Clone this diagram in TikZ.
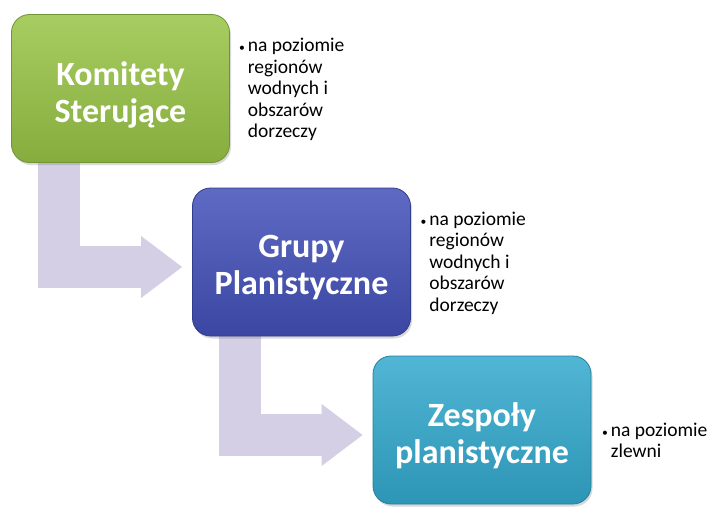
\documentclass[tikz,border=0pt]{standalone}
\usepackage{fontspec}
\setmainfont{Carlito}
\usetikzlibrary{positioning,calc,arrows.meta,shadows,backgrounds}

\definecolor{pfeillila}{HTML}{D4CFE4}
\definecolor{komgruen}{HTML}{98C446}
\definecolor{grupblau}{HTML}{4250B8}
\definecolor{zesptuerkis}{HTML}{33A9CE}

% Titelzeile etwas tiefer setzen
\newcommand\titel[1]{\raisebox{-6pt}[\height][\depth]{#1}}

\tikzset{
  stufe/.style={rounded corners=18pt, minimum width=218pt, minimum height=148pt,
    align=center, text=white, font=\fontsize{34}{37}\selectfont\bfseries,
    draw=#1!75!black, line width=0.8pt,
    top color=#1!85!white, bottom color=#1!88!black,
    drop shadow={opacity=0.3,shadow xshift=1.5pt,shadow yshift=-2.5pt}},
  notiz/.style={inner sep=0pt, align=left, font=\fontsize{19.5}{21.5}\selectfont},
  fluss/.style={draw=pfeillila, line width=42pt,
    -{Triangle[width=62pt,length=41pt,line width=0pt]}}
}

\begin{document}
\begin{tikzpicture}[x=1pt,y=1pt]
\useasboundingbox (0,0) rectangle (712,-506);

\node[stufe=komgruen] (komitety) at (120.5,-88.5)
  {\titel{Komitety}\\\titel{Sterujące}};
\node[stufe=grupblau] (grupy) at (301.5,-262)
  {\titel{Grupy}\\\titel{Planistyczne}};
\node[stufe=zesptuerkis] (zespoly) at (482,-430)
  {\titel{Zespoły}\\\titel{planistyczne}};

\node[notiz, below right=22.5pt and 9pt of komitety.north east] (notizkom)
  {\begin{tabular}{@{}l@{\hspace{3pt}}l@{}}
   \scalebox{0.6}{\textbullet} & na poziomie\\
   & regionów\\ & wodnych i\\ & obszarów\\ & dorzeczy
   \end{tabular}};
\node[notiz, below right=22.5pt and 9.5pt of grupy.north east] (notizgrup)
  {\begin{tabular}{@{}l@{\hspace{3pt}}l@{}}
   \scalebox{0.6}{\textbullet} & na poziomie\\
   & regionów\\ & wodnych i\\ & obszarów\\ & dorzeczy
   \end{tabular}};
\node[notiz, below right=65.5pt and 10.5pt of zespoly.north east] (notizzesp)
  {\begin{tabular}{@{}l@{\hspace{3pt}}l@{}}
   \scalebox{0.6}{\textbullet} & na poziomie\\
   & zlewni
   \end{tabular}};

\begin{scope}[on background layer]
\draw[fluss] ($(komitety.south west)+(48,5)$) |- ($(grupy.west)+(-10,-5)$);
\draw[fluss] ($(grupy.south west)+(48,5)$) |- ($(zespoly.west)+(-10,-5)$);
\end{scope}
\end{tikzpicture}
\end{document}
